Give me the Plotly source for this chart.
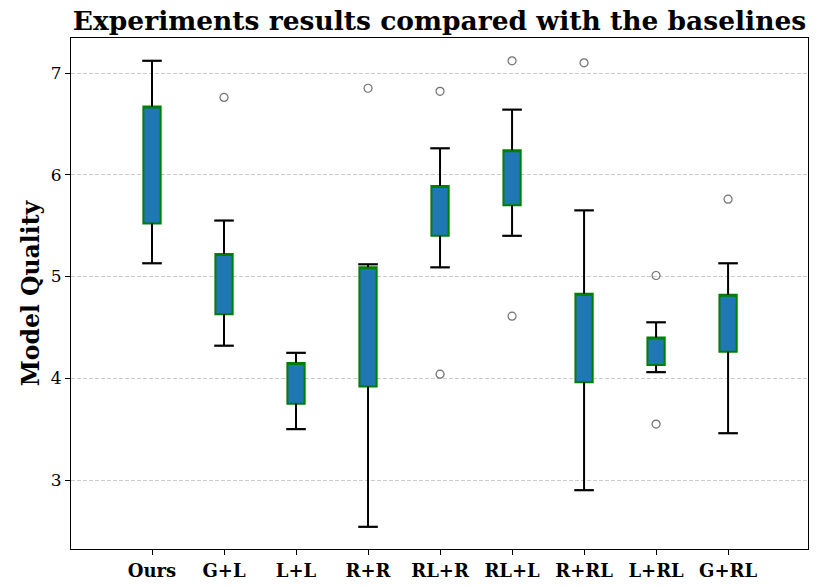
import plotly.graph_objects as go

categories = ["Ours", "G+L", "L+L", "R+R", "RL+R", "RL+L", "R+RL", "L+RL", "G+RL"]
lower_whisker = [5.13, 4.32, 3.50, 2.54, 5.09, 5.40, 2.90, 4.06, 3.46]
q1 = [5.52, 4.63, 3.75, 3.92, 5.40, 5.70, 3.96, 4.13, 4.26]
q3 = [6.67, 5.22, 4.15, 5.09, 5.89, 6.24, 4.83, 4.40, 4.82]
upper_whisker = [7.12, 5.55, 4.25, 5.12, 6.26, 6.64, 5.65, 4.55, 5.13]
outliers = [[], [6.76], [], [6.85], [6.82, 4.04], [7.12, 4.61], [7.10], [5.01, 3.55], [5.76]]

xs = list(range(len(categories)))
serif = "DejaVu Serif"

fig = go.Figure()

# whisker lines
wx, wy = [], []
for i in xs:
    wx += [i, i, None, i, i, None]
    wy += [q3[i], upper_whisker[i], None, q1[i], lower_whisker[i], None]
fig.add_trace(go.Scatter(x=wx, y=wy, mode="lines", line=dict(color="black", width=2),
                         hoverinfo="skip", showlegend=False))
# caps
fig.add_trace(go.Scatter(x=xs + xs, y=upper_whisker + lower_whisker, mode="markers",
                         marker=dict(symbol="line-ew", size=14, line=dict(color="black", width=2.2)),
                         hoverinfo="skip", showlegend=False))

# boxes
fig.add_trace(go.Box(x=xs, q1=q1, q3=q3, median=q3, lowerfence=q1, upperfence=q3,
                     width=0.24, fillcolor="#1f77b4", line=dict(color="#008000", width=2),
                     whiskerwidth=0, boxpoints=False, showlegend=False))

# outliers
ox, oy = [], []
for i in xs:
    for v in outliers[i]:
        ox.append(i)
        oy.append(v)
fig.add_trace(go.Scatter(x=ox, y=oy, mode="markers",
                         marker=dict(symbol="circle-open", size=8, color="#707070", line=dict(width=1.2)),
                         showlegend=False))

fig.update_layout(
    width=830, height=587,
    margin=dict(l=71, r=22, t=38, b=38, autoexpand=False),
    plot_bgcolor="white", paper_bgcolor="white",
    title=dict(text="<b>Experiments results compared with the baselines</b>",
               x=0.5, xref="paper", xanchor="center", y=1 - 21 / 587, yref="container", yanchor="middle",
               font=dict(family=serif, size=26.5, color="black")),
    font=dict(family=serif, color="black"),
)
fig.update_xaxes(range=[-1.125, 9.11], tickvals=xs,
                 ticktext=["<b>%s</b>" % c for c in categories],
                 tickfont=dict(family=serif, size=18, color="black"),
                 showgrid=False, zeroline=False, showline=True, mirror=True, automargin=False,
                 linecolor="black", linewidth=1, ticks="outside", ticklen=5, tickcolor="black")
fig.update_yaxes(range=[2.322, 7.344], tickvals=[3, 4, 5, 6, 7],
                 tickfont=dict(family=serif, size=17, color="black"),
                 title=dict(text="<b>Model Quality</b>", font=dict(family=serif, size=23.5, color="black"),
                            standoff=4),
                 showgrid=True, gridcolor="#cccccc", griddash="4px,2px", gridwidth=1, automargin=False,
                 zeroline=False, showline=True, mirror=True,
                 linecolor="black", linewidth=1, ticks="outside", ticklen=5, tickcolor="black")

fig.write_html("out.html", config={"displayModeBar": False},
               post_script="document.body.style.margin='0';document.body.style.overflow='hidden';")
